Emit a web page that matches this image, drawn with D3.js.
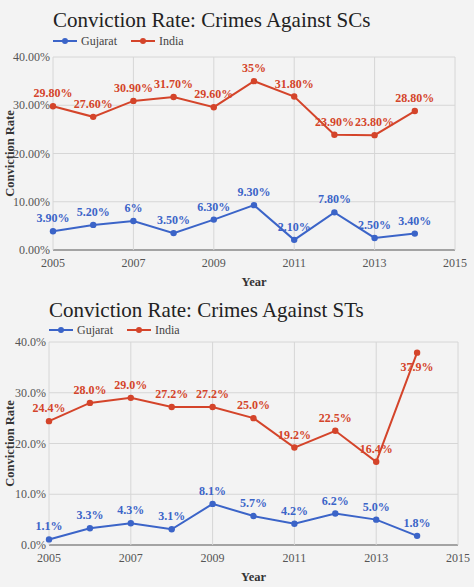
<!DOCTYPE html><html><head><meta charset="utf-8">
<script src="https://cdn.jsdelivr.net/npm/d3@7"></script>
<style>body{margin:0;background:#f3f3f3}svg,svg text{display:block;font-family:"Liberation Serif","Times New Roman","DejaVu Serif",serif}</style></head><body>
<svg id="c" width="474" height="587"></svg>
<script>
const years=[2005,2006,2007,2008,2009,2010,2011,2012,2013,2014];
const scGujarat=[3.9,5.2,6,3.5,6.3,9.3,2.1,7.8,2.5,3.4];
const scIndia=[29.8,27.6,30.9,31.7,29.6,35,31.8,23.9,23.8,28.8];
const scGujLabels=["3.90%","5.20%","6%","3.50%","6.30%","9.30%","2.10%","7.80%","2.50%","3.40%"];
const scIndLabels=["29.80%","27.60%","30.90%","31.70%","29.60%","35%","31.80%","23.90%","23.80%","28.80%"];
const stGujarat=[1.1,3.3,4.3,3.1,8.1,5.7,4.2,6.2,5.0,1.8];
const stIndia=[24.4,28.0,29.0,27.2,27.2,25.0,19.2,22.5,16.4,37.9];
const stGujLabels=stGujarat.map(v=>v.toFixed(1)+"%");
const stIndLabels=stIndia.map(v=>v.toFixed(1)+"%");
const xTicks=[2005,2007,2009,2011,2013,2015];
const yTicks=[0,10,20,30,40];
const blue="#3b64c8",red="#d4442a";
const FONT='"Liberation Serif","Times New Roman","DejaVu Serif",serif';
const svg=d3.select("#c").attr("font-family",FONT);
function chart(o){
 const g=svg.append("g");
 const x=d3.scaleLinear().domain([2005,2015]).range([o.l,o.r]);
 const y=d3.scaleLinear().domain([0,40]).range([o.b,o.t]);
 g.append("text").attr("x",o.l).attr("y",o.ty).attr("font-size",21).attr("fill","#222").text(o.title);
 [[blue,"Gujarat",o.l],[red,"India",o.l+78]].forEach(([c,n,lx])=>{
  g.append("line").attr("x1",lx).attr("x2",lx+24).attr("y1",o.ly).attr("y2",o.ly).attr("stroke",c).attr("stroke-width",2);
  g.append("circle").attr("cx",lx+12).attr("cy",o.ly).attr("r",3).attr("fill",c);
  g.append("text").attr("x",lx+28).attr("y",o.ly+4).attr("font-size",12).attr("fill","#444").text(n);
 });
 g.selectAll(".gy").data(yTicks).join("line").attr("x1",o.l).attr("x2",o.r).attr("y1",d=>y(d)).attr("y2",d=>y(d)).attr("stroke",d=>d===0?"#555":"#d6d6d6").attr("stroke-width",d=>d===0?1.2:1);
 g.selectAll(".gx").data(xTicks).join("line").attr("x1",d=>x(d)).attr("x2",d=>x(d)).attr("y1",o.t).attr("y2",o.b).attr("stroke","#d6d6d6");
 g.selectAll(".yl").data(yTicks).join("text").attr("x",o.l-3).attr("y",d=>y(d)+4).attr("text-anchor","end").attr("font-size",12).attr("fill","#555").text(d=>d.toFixed(o.dec)+"%");
 g.selectAll(".xl").data(xTicks).join("text").attr("x",d=>x(d)).attr("y",o.b+17).attr("text-anchor","middle").attr("font-size",12).attr("fill","#555").text(d=>d);
 g.append("text").attr("x",(o.l+o.r)/2).attr("y",o.b+36).attr("text-anchor","middle").attr("font-size",12.5).attr("font-weight","bold").attr("fill","#333").text("Year");
 g.append("text").attr("transform",`translate(14,${(o.t+o.b)/2}) rotate(-90)`).attr("text-anchor","middle").attr("font-size",12.5).attr("font-weight","bold").attr("fill","#333").text("Conviction Rate");
 o.series.forEach(s=>{
  const pts=years.map((yr,i)=>[x(yr),y(s.v[i])]);
  g.append("path").attr("d",d3.line()(pts)).attr("fill","none").attr("stroke",s.c).attr("stroke-width",2);
  g.selectAll(null).data(pts).join("circle").attr("cx",d=>d[0]).attr("cy",d=>d[1]).attr("r",3.2).attr("fill",s.c);
  g.selectAll(null).data(pts).join("text").attr("x",d=>d[0]).attr("y",(d,i)=>d[1]+(s.below&&s.below.includes(i)?18:-9)).attr("text-anchor","middle").attr("font-size",12).attr("font-weight","bold").attr("fill",s.c).text((d,i)=>s.lab[i]);
 });
}
chart({l:53,r:455,t:57,b:250,ty:27,ly:41,dec:2,title:"Conviction Rate: Crimes Against SCs",
 series:[{v:scGujarat,c:blue,lab:scGujLabels},{v:scIndia,c:red,lab:scIndLabels}]});
chart({l:49,r:458,t:342,b:545,ty:317,ly:330,dec:1,title:"Conviction Rate: Crimes Against STs",
 series:[{v:stGujarat,c:blue,lab:stGujLabels},{v:stIndia,c:red,lab:stIndLabels,below:[9]}]});
</script></body></html>
